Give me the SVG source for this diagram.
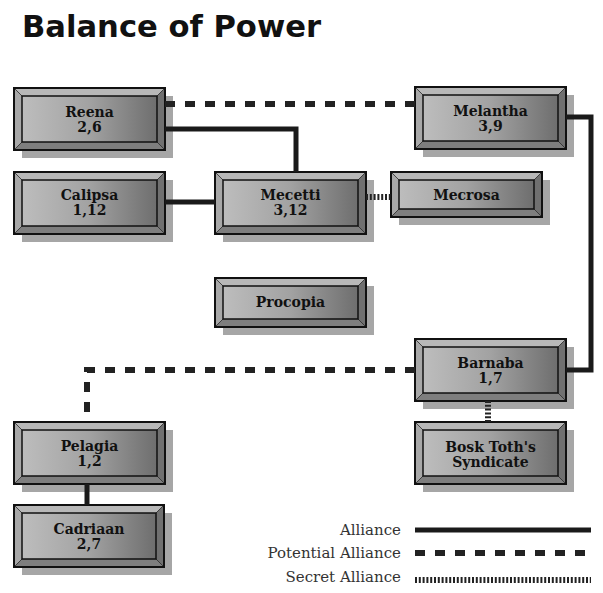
<svg xmlns="http://www.w3.org/2000/svg" width="603" height="593" viewBox="0 0 603 593">
<defs>
<linearGradient id="panel" x1="0" y1="0" x2="1" y2="0">
<stop offset="0" stop-color="#bdbdbd"/>
<stop offset="0.5" stop-color="#a2a2a2"/>
<stop offset="1" stop-color="#6e6e6e"/>
</linearGradient>
</defs>
<style>
.shadow{fill:#a6a6a6}
.frame{fill:#a0a0a0;stroke:#111;stroke-width:2}
.ft{fill:#b8b8b8}
.fl{fill:#a8a8a8}
.fb{fill:#7e7e7e}
.fr{fill:#707070}
.diag{stroke:#2a2a2a;stroke-width:0.8}
.inner{fill:url(#panel);stroke:#111;stroke-width:1.5}
.lbl{font-family:"DejaVu Serif","Liberation Serif",serif;font-weight:bold;font-size:14px;fill:#111;text-anchor:middle}
.solid{fill:none;stroke:#1a1a1a;stroke-width:5}
.pot{fill:none;stroke:#222;stroke-width:6;stroke-dasharray:10 10}
.sec{fill:none;stroke:#222;stroke-width:6;stroke-dasharray:2 1.8}
.leg{font-family:"DejaVu Serif","Liberation Serif",serif;font-size:15px;fill:#333;text-anchor:end}
</style>
<rect width="603" height="593" fill="#fff"/>
<text x="22" y="37" font-family="DejaVu Sans,Liberation Sans,sans-serif" font-weight="bold" font-size="31" fill="#111" textLength="299" lengthAdjust="spacingAndGlyphs">Balance of Power</text>

<g id="node-reena" transform="translate(14,88)">
<rect class="shadow" x="8" y="8" width="151" height="62"/>
<rect class="frame" width="151" height="62"/>
<polygon class="ft" points="0,0 151,0 143,8 8,8"/><polygon class="fl" points="0,0 8,8 8,54 0,62"/><polygon class="fb" points="0,62 8,54 143,54 151,62"/><polygon class="fr" points="151,0 151,62 143,54 143,8"/>
<path class="diag" d="M0,0L8,8M151,0L143,8M0,62L8,54M151,62L143,54"/>
<rect class="frame" width="151" height="62" style="fill:none"/>
<rect class="inner" x="8" y="8" width="135" height="46"/>
<text class="lbl" x="75.5" y="29">Reena</text><text class="lbl" x="75.5" y="44">2,6</text>
</g>

<g id="node-melantha" transform="translate(415,87)">
<rect class="shadow" x="8" y="8" width="151" height="62"/>
<rect class="frame" width="151" height="62"/>
<polygon class="ft" points="0,0 151,0 143,8 8,8"/><polygon class="fl" points="0,0 8,8 8,54 0,62"/><polygon class="fb" points="0,62 8,54 143,54 151,62"/><polygon class="fr" points="151,0 151,62 143,54 143,8"/>
<path class="diag" d="M0,0L8,8M151,0L143,8M0,62L8,54M151,62L143,54"/>
<rect class="frame" width="151" height="62" style="fill:none"/>
<rect class="inner" x="8" y="8" width="135" height="46"/>
<text class="lbl" x="75.5" y="29">Melantha</text><text class="lbl" x="75.5" y="44">3,9</text>
</g>

<g id="node-calipsa" transform="translate(14,172)">
<rect class="shadow" x="8" y="8" width="151" height="62"/>
<rect class="frame" width="151" height="62"/>
<polygon class="ft" points="0,0 151,0 143,8 8,8"/><polygon class="fl" points="0,0 8,8 8,54 0,62"/><polygon class="fb" points="0,62 8,54 143,54 151,62"/><polygon class="fr" points="151,0 151,62 143,54 143,8"/>
<path class="diag" d="M0,0L8,8M151,0L143,8M0,62L8,54M151,62L143,54"/>
<rect class="frame" width="151" height="62" style="fill:none"/>
<rect class="inner" x="8" y="8" width="135" height="46"/>
<text class="lbl" x="75.5" y="28">Calipsa</text><text class="lbl" x="75.5" y="43">1,12</text>
</g>

<g id="node-mecetti" transform="translate(215,172)">
<rect class="shadow" x="8" y="8" width="151" height="62"/>
<rect class="frame" width="151" height="62"/>
<polygon class="ft" points="0,0 151,0 143,8 8,8"/><polygon class="fl" points="0,0 8,8 8,54 0,62"/><polygon class="fb" points="0,62 8,54 143,54 151,62"/><polygon class="fr" points="151,0 151,62 143,54 143,8"/>
<path class="diag" d="M0,0L8,8M151,0L143,8M0,62L8,54M151,62L143,54"/>
<rect class="frame" width="151" height="62" style="fill:none"/>
<rect class="inner" x="8" y="8" width="135" height="46"/>
<text class="lbl" x="75.5" y="28">Mecetti</text><text class="lbl" x="75.5" y="43">3,12</text>
</g>

<g id="node-mecrosa" transform="translate(391,172)">
<rect class="shadow" x="8" y="8" width="151" height="45"/>
<rect class="frame" width="151" height="45"/>
<polygon class="ft" points="0,0 151,0 143,8 8,8"/><polygon class="fl" points="0,0 8,8 8,37 0,45"/><polygon class="fb" points="0,45 8,37 143,37 151,45"/><polygon class="fr" points="151,0 151,45 143,37 143,8"/>
<path class="diag" d="M0,0L8,8M151,0L143,8M0,45L8,37M151,45L143,37"/>
<rect class="frame" width="151" height="45" style="fill:none"/>
<rect class="inner" x="8" y="8" width="135" height="29"/>
<text class="lbl" x="75.5" y="28">Mecrosa</text>
</g>

<g id="node-procopia" transform="translate(215,278)">
<rect class="shadow" x="8" y="8" width="151" height="49"/>
<rect class="frame" width="151" height="49"/>
<polygon class="ft" points="0,0 151,0 143,8 8,8"/><polygon class="fl" points="0,0 8,8 8,41 0,49"/><polygon class="fb" points="0,49 8,41 143,41 151,49"/><polygon class="fr" points="151,0 151,49 143,41 143,8"/>
<path class="diag" d="M0,0L8,8M151,0L143,8M0,49L8,41M151,49L143,41"/>
<rect class="frame" width="151" height="49" style="fill:none"/>
<rect class="inner" x="8" y="8" width="135" height="33"/>
<text class="lbl" x="75.5" y="29">Procopia</text>
</g>

<g id="node-barnaba" transform="translate(415,339)">
<rect class="shadow" x="8" y="8" width="151" height="62"/>
<rect class="frame" width="151" height="62"/>
<polygon class="ft" points="0,0 151,0 143,8 8,8"/><polygon class="fl" points="0,0 8,8 8,54 0,62"/><polygon class="fb" points="0,62 8,54 143,54 151,62"/><polygon class="fr" points="151,0 151,62 143,54 143,8"/>
<path class="diag" d="M0,0L8,8M151,0L143,8M0,62L8,54M151,62L143,54"/>
<rect class="frame" width="151" height="62" style="fill:none"/>
<rect class="inner" x="8" y="8" width="135" height="46"/>
<text class="lbl" x="75.5" y="29">Barnaba</text><text class="lbl" x="75.5" y="44">1,7</text>
</g>

<g id="node-bosk" transform="translate(415,422)">
<rect class="shadow" x="8" y="8" width="151" height="62"/>
<rect class="frame" width="151" height="62"/>
<polygon class="ft" points="0,0 151,0 143,8 8,8"/><polygon class="fl" points="0,0 8,8 8,54 0,62"/><polygon class="fb" points="0,62 8,54 143,54 151,62"/><polygon class="fr" points="151,0 151,62 143,54 143,8"/>
<path class="diag" d="M0,0L8,8M151,0L143,8M0,62L8,54M151,62L143,54"/>
<rect class="frame" width="151" height="62" style="fill:none"/>
<rect class="inner" x="8" y="8" width="135" height="46"/>
<text class="lbl" x="75.5" y="30">Bosk Toth's</text><text class="lbl" x="75.5" y="45">Syndicate</text>
</g>

<g id="node-pelagia" transform="translate(14,422)">
<rect class="shadow" x="8" y="8" width="151" height="62"/>
<rect class="frame" width="151" height="62"/>
<polygon class="ft" points="0,0 151,0 143,8 8,8"/><polygon class="fl" points="0,0 8,8 8,54 0,62"/><polygon class="fb" points="0,62 8,54 143,54 151,62"/><polygon class="fr" points="151,0 151,62 143,54 143,8"/>
<path class="diag" d="M0,0L8,8M151,0L143,8M0,62L8,54M151,62L143,54"/>
<rect class="frame" width="151" height="62" style="fill:none"/>
<rect class="inner" x="8" y="8" width="135" height="46"/>
<text class="lbl" x="75.5" y="29">Pelagia</text><text class="lbl" x="75.5" y="44">1,2</text>
</g>

<g id="node-cadriaan" transform="translate(14,505)">
<rect class="shadow" x="8" y="8" width="150" height="62"/>
<rect class="frame" width="150" height="62"/>
<polygon class="ft" points="0,0 150,0 142,8 8,8"/><polygon class="fl" points="0,0 8,8 8,54 0,62"/><polygon class="fb" points="0,62 8,54 142,54 150,62"/><polygon class="fr" points="150,0 150,62 142,54 142,8"/>
<path class="diag" d="M0,0L8,8M150,0L142,8M0,62L8,54M150,62L142,54"/>
<rect class="frame" width="150" height="62" style="fill:none"/>
<rect class="inner" x="8" y="8" width="134" height="46"/>
<text class="lbl" x="75" y="29">Cadriaan</text><text class="lbl" x="75" y="44">2,7</text>
</g>

<g id="connectors">
<path class="solid" d="M165,129H296V172"/>
<path class="solid" d="M165,202H215"/>
<path class="solid" d="M566,117H591V370H566"/>
<path class="solid" d="M87,484V505"/>
<path class="pot" d="M165,104H415"/>
<path class="pot" d="M415,370H87V422"/>
<path class="sec" d="M366,197H391"/>
<path class="sec" d="M488,401V422"/>
</g>

<g id="legend">
<text class="leg" x="401" y="535">Alliance</text>
<text class="leg" x="401" y="558">Potential Alliance</text>
<text class="leg" x="401" y="582">Secret Alliance</text>
<path class="solid" d="M415,530H591"/>
<path class="pot" d="M415,553H591"/>
<path class="sec" d="M415,580H591"/>
</g>
</svg>
